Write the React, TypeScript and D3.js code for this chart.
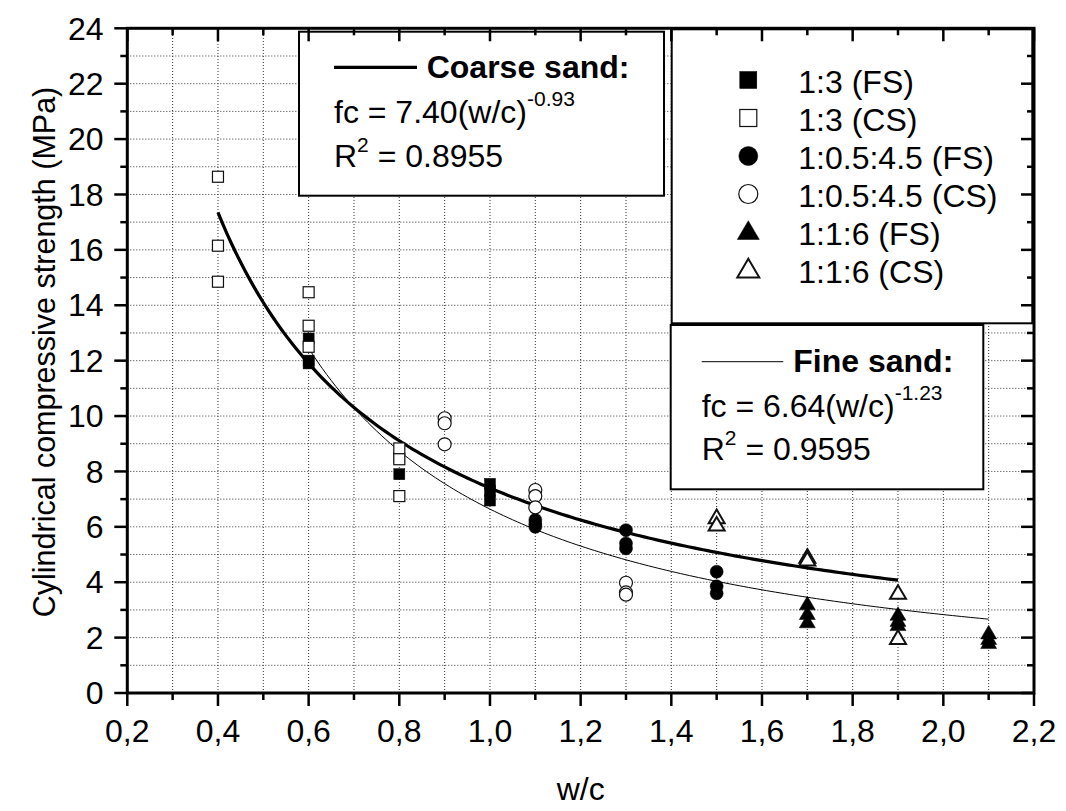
import React from "react";
import * as d3 from "d3";

// w/c values and strengths (MPa)
const sq13FS_x = [0.6, 0.6, 0.6, 0.8, 0.8, 1.0, 1.0, 1.0];
const sq13FS_y = [12.8, 12.0, 11.9, 7.9, 8.5, 7.55, 7.3, 6.95];
const sq13CS_x = [0.4, 0.4, 0.4, 0.6, 0.6, 0.6, 0.8, 0.8, 0.8];
const sq13CS_y = [18.64, 16.15, 14.85, 14.47, 13.26, 12.5, 8.83, 8.44, 7.11];
const ci1055FS_x = [1.1, 1.1, 1.1, 1.3, 1.3, 1.3, 1.5, 1.5, 1.5];
const ci1055FS_y = [6.25, 6.1, 6.0, 5.88, 5.4, 5.22, 4.38, 3.85, 3.6];
const ci1055CS_x = [0.9, 0.9, 0.9, 1.1, 1.1, 1.1, 1.3, 1.3, 1.3];
const ci1055CS_y = [9.92, 9.74, 8.98, 7.33, 7.11, 6.7, 3.98, 3.63, 3.55];
const tr116FS_x = [1.7, 1.7, 1.7, 1.9, 1.9, 1.9, 2.1, 2.1, 2.1];
const tr116FS_y = [3.2, 2.85, 2.55, 2.82, 2.6, 2.45, 2.15, 1.95, 1.8];
const tr116CS_x = [1.5, 1.5, 1.7, 1.7, 1.9, 1.9];
const tr116CS_y = [6.33, 6.06, 4.9, 4.8, 3.6, 1.97];

const legendLabels = [
  "1:3 (FS)",
  "1:3 (CS)",
  "1:0.5:4.5 (FS)",
  "1:0.5:4.5 (CS)",
  "1:1:6 (FS)",
  "1:1:6 (CS)",
];

// power-law fits printed in the chart: fc = a * (w/c)^b
const coarseFit = { a: 7.4, b: -0.93, from: 0.4, to: 1.9 };
const fineFit = { a: 6.64, b: -1.23, from: 0.6, to: 2.1 };

const xMajor = [0.2, 0.4, 0.6, 0.8, 1.0, 1.2, 1.4, 1.6, 1.8, 2.0, 2.2];
const yMajor = [0, 2, 4, 6, 8, 10, 12, 14, 16, 18, 20, 22, 24];

const W = 1066;
const H = 811;
const font = "'Liberation Sans', Arial, sans-serif";
const fs = 32;
const sup = 21;

type Shape = "square" | "circle" | "triangle";

const Marker = ({ shape, filled, cx, cy, s }: { shape: Shape; filled: boolean; cx: number; cy: number; s: number }) => {
  const fill = filled ? "#000" : "#fff";
  const stroke = filled ? "#000" : "#111";
  if (shape === "square")
    return <rect x={cx - s / 2} y={cy - s / 2} width={s} height={s} fill={fill} stroke={stroke} strokeWidth={filled ? 0.5 : 1.2} />;
  if (shape === "circle")
    return <circle cx={cx} cy={cy} r={s / 2} fill={fill} stroke={stroke} strokeWidth={filled ? 0.5 : 1.2} />;
  const h = s * 0.85;
  const pts = `${cx},${cy - h * 0.6} ${cx + s / 2},${cy + h * 0.4} ${cx - s / 2},${cy + h * 0.4}`;
  return <polygon points={pts} fill={fill} stroke={stroke} strokeWidth={filled ? 0.5 : 2} strokeLinejoin="miter" />;
};

export default function App() {
  const x = d3.scaleLinear().domain([0.2, 2.2]).range([127.3, 1034]);
  const y = d3.scaleLinear().domain([0, 24]).range([693, 28.3]);
  const [x0, x1] = x.range();
  const [y0, y1] = y.range();

  const xMinor = d3.range(0.2, 2.2001, 0.1);
  const yMinor = d3.range(0, 24.001, 1);
  const fmt = (v: number) => v.toFixed(1).replace(".", ",");

  const line = d3.line<number>().x((d) => x(d));
  const fitPath = (f: typeof coarseFit) =>
    line.y((d) => y(f.a * Math.pow(d, f.b)))(d3.range(f.from, f.to + 1e-9, 0.01).concat([f.to]));

  const series: { xs: number[]; ys: number[]; shape: Shape; filled: boolean; s: number }[] = [
    { xs: sq13FS_x, ys: sq13FS_y, shape: "square", filled: true, s: 11 },
    { xs: sq13CS_x, ys: sq13CS_y, shape: "square", filled: false, s: 11 },
    { xs: ci1055FS_x, ys: ci1055FS_y, shape: "circle", filled: true, s: 13 },
    { xs: ci1055CS_x, ys: ci1055CS_y, shape: "circle", filled: false, s: 13 },
    { xs: tr116FS_x, ys: tr116FS_y, shape: "triangle", filled: true, s: 16 },
    { xs: tr116CS_x, ys: tr116CS_y, shape: "triangle", filled: false, s: 16 },
  ];
  const legendSize = [17, 17, 19, 19, 22, 22];

  return (
    <svg width={W} height={H} style={{ position: "absolute", left: 0, top: 0, background: "#fff" }} fontFamily={font}>
      <rect width={W} height={H} fill="#fff" />
      {/* grid */}
      <g stroke="#333" strokeWidth={1} strokeDasharray="1,2">
        {xMinor.map((v, i) => (
          <line key={"gx" + i} x1={x(v)} x2={x(v)} y1={y0} y2={y1} />
        ))}
        {yMinor.map((v, i) => (
          <line key={"gy" + i} x1={x0} x2={x1} y1={y(v)} y2={y(v)} />
        ))}
      </g>

      {/* fitted curves */}
      <path d={fitPath(coarseFit) || ""} fill="none" stroke="#000" strokeWidth={3.2} />
      <path d={fitPath(fineFit) || ""} fill="none" stroke="#000" strokeWidth={1} />

      {/* points */}
      {series.map((sr, si) => (
        <g key={"s" + si}>
          {sr.xs.map((v, i) => (
            <Marker key={i} shape={sr.shape} filled={sr.filled} cx={x(v)} cy={y(sr.ys[i])} s={sr.s} />
          ))}
        </g>
      ))}

      {/* coarse sand box */}
      <rect x={299} y={31.7} width={365} height={164} fill="#fff" stroke="#000" strokeWidth={2} />
      <line x1={334} x2={417} y1={67.3} y2={67.3} stroke="#000" strokeWidth={3.2} />
      <text x={426.7} y={77.7} fontSize={fs} fontWeight="bold">Coarse sand:</text>
      <text x={334} y={123.3} fontSize={fs}>
        fc = 7.40(w/c)<tspan dy={-17} fontSize={sup}>-0.93</tspan>
      </text>
      <text x={334} y={166.7} fontSize={fs}>
        R<tspan dy={-15} fontSize={sup}>2</tspan>
        <tspan dy={15}> = 0.8955</tspan>
      </text>

      {/* symbol legend */}
      <rect x={671.7} y={29.3} width={360.6} height={294} fill="#fff" stroke="#000" strokeWidth={2} />
      {legendLabels.map((lab, i) => {
        const cy = 80 + i * 38;
        return (
          <g key={"lg" + i}>
            <Marker shape={series[i].shape} filled={series[i].filled} cx={748.3} cy={cy} s={legendSize[i]} />
            <text x={798.3} y={cy + 13} fontSize={fs}>{lab}</text>
          </g>
        );
      })}

      {/* fine sand box */}
      <rect x={670.7} y={325} width={312.6} height={164.3} fill="#fff" stroke="#000" strokeWidth={2} />
      <line x1={701.7} x2={783.3} y1={361.7} y2={361.7} stroke="#000" strokeWidth={1} />
      <text x={793.3} y={372.3} fontSize={fs} fontWeight="bold">Fine sand:</text>
      <text x={701.7} y={416.7} fontSize={fs}>
        fc = 6.64(w/c)<tspan dy={-17} fontSize={sup}>-1.23</tspan>
      </text>
      <text x={701.7} y={460} fontSize={fs}>
        R<tspan dy={-15} fontSize={sup}>2</tspan>
        <tspan dy={15}> = 0.9595</tspan>
      </text>

      {/* axes frame */}
      <g stroke="#000" strokeWidth={2.5}>
        {xMinor.map((v, i) => {
          const len = i % 2 === 0 ? 13 : 7;
          return (
            <g key={"tx" + i}>
              <line x1={x(v)} x2={x(v)} y1={y0} y2={y0 + len} />
              <line x1={x(v)} x2={x(v)} y1={y1} y2={y1 + len} />
            </g>
          );
        })}
        {yMinor.map((v, i) => {
          const len = i % 2 === 0 ? 13 : 7;
          return (
            <g key={"ty" + i}>
              <line x1={x0} x2={x0 - len} y1={y(v)} y2={y(v)} />
              <line x1={x1} x2={x1 - len} y1={y(v)} y2={y(v)} />
            </g>
          );
        })}
      </g>
      <rect x={x0} y={y1} width={x1 - x0} height={y0 - y1} fill="none" stroke="#000" strokeWidth={3} />

      {/* tick labels */}
      {xMajor.map((v) => (
        <text key={"xl" + v} x={x(v)} y={741.7} fontSize={fs} textAnchor="middle">
          {fmt(v)}
        </text>
      ))}
      {yMajor.map((v) => (
        <text key={"yl" + v} x={103.5} y={y(v)} dy="0.35em" fontSize={fs} textAnchor="end">
          {v}
        </text>
      ))}

      {/* axis titles */}
      <text x={(x0 + x1) / 2} y={800} fontSize={fs} textAnchor="middle">w/c</text>
      <text transform={`translate(55,352) rotate(-90)`} fontSize={30.5} textAnchor="middle">
        Cylindrical compressive strength (MPa)
      </text>
    </svg>
  );
}
